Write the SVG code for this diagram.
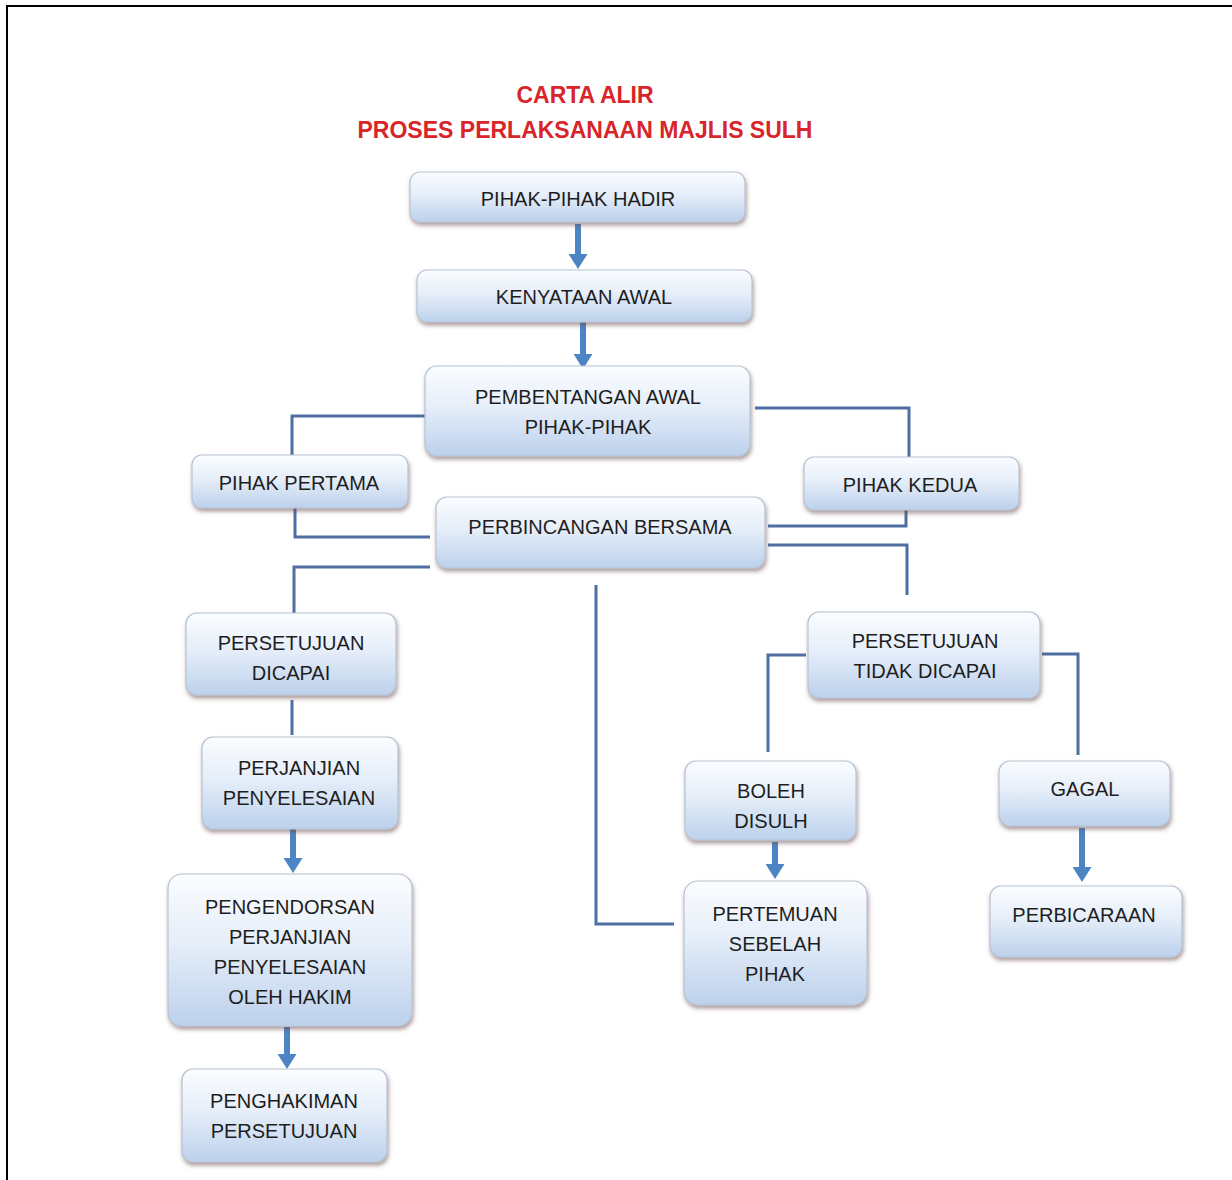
<svg xmlns="http://www.w3.org/2000/svg" width="1232" height="1180" viewBox="0 0 1232 1180">
<style>
.box{fill:url(#g);stroke:#b7c3d3;stroke-width:1.2;filter:url(#sh)}
.t{font-family:"Liberation Sans",Arial,sans-serif;font-size:20px;fill:#1e1e1e;text-anchor:middle}
.ttl{font-family:"Liberation Sans",Arial,sans-serif;font-size:23px;font-weight:bold;fill:#d7252a;text-anchor:middle}
.ln{fill:none;stroke:#4f6fa3;stroke-width:3}
.ar{fill:none;stroke:#4d85c4;stroke-width:6}
</style>
<defs>
<linearGradient id="g" x1="0" y1="0" x2="0" y2="1">
<stop offset="0" stop-color="#fbfdff"/>
<stop offset="0.45" stop-color="#e6eef9"/>
<stop offset="1" stop-color="#bcd1ec"/>
</linearGradient>
<filter id="sh" x="-10%" y="-10%" width="125%" height="130%">
<feDropShadow dx="1" dy="3" stdDeviation="2" flood-color="#6a4a4a" flood-opacity="0.55"/>
</filter>
<marker id="ah" viewBox="0 0 10 10" refX="0" refY="5" markerWidth="15" markerHeight="19" orient="auto" markerUnits="userSpaceOnUse" preserveAspectRatio="none">
<path d="M0,0 L10,5 L0,10 Z" fill="#4d85c4"/>
</marker>
</defs>
<rect width="1232" height="1180" fill="#fff"/>
<path d="M7,1180 V6 H1232" fill="none" stroke="#000" stroke-width="2"/>
<g id="title">
<text class="ttl" x="585" y="103">CARTA ALIR</text>
<text class="ttl" x="585" y="138">PROSES PERLAKSANAAN MAJLIS SULH</text>
</g>
<g id="connectors">
<path class="ln" d="M425,416 H292 V455"/>
<path class="ln" d="M295,508 V537 H430"/>
<path class="ln" d="M755,408 H909 V457"/>
<path class="ln" d="M906,510 V526 H768"/>
<path class="ln" d="M768,545 H907 V595"/>
<path class="ln" d="M430,567 H294 V613"/>
<path class="ln" d="M596,585 V924 H674"/>
<path class="ln" d="M292,700 V735"/>
<path class="ln" d="M806,655 H768 V752"/>
<path class="ln" d="M1042,654 H1078 V755"/>
<path class="ar" d="M578,224 V254" marker-end="url(#ah)"/>
<path class="ar" d="M583,322 V354" marker-end="url(#ah)"/>
<path class="ar" d="M293,826 V858" marker-end="url(#ah)"/>
<path class="ar" d="M287,1027 V1054" marker-end="url(#ah)"/>
<path class="ar" d="M775,842 V864" marker-end="url(#ah)"/>
<path class="ar" d="M1082,828 V867" marker-end="url(#ah)"/>
</g>
<g id="n1"><rect class="box" x="410" y="172" width="335" height="50" rx="10"/><text class="t" x="578" y="206">PIHAK-PIHAK HADIR</text></g>
<g id="n2"><rect class="box" x="417" y="270" width="335" height="52" rx="10"/><text class="t" x="584" y="304">KENYATAAN AWAL</text></g>
<g id="n3"><rect class="box" x="425" y="366" width="325" height="90" rx="12"/><text class="t" x="588" y="404">PEMBENTANGAN AWAL</text><text class="t" x="588" y="434">PIHAK-PIHAK</text></g>
<g id="n4"><rect class="box" x="192" y="455" width="216" height="53" rx="10"/><text class="t" x="299" y="490">PIHAK PERTAMA</text></g>
<g id="n5"><rect class="box" x="804" y="457" width="215" height="53" rx="10"/><text class="t" x="910" y="492">PIHAK KEDUA</text></g>
<g id="n6"><rect class="box" x="436" y="497" width="329" height="71" rx="11"/><text class="t" x="600" y="534">PERBINCANGAN BERSAMA</text></g>
<g id="n7"><rect class="box" x="186" y="613" width="210" height="82" rx="11"/><text class="t" x="291" y="650">PERSETUJUAN</text><text class="t" x="291" y="680">DICAPAI</text></g>
<g id="n8"><rect class="box" x="808" y="612" width="232" height="86" rx="11"/><text class="t" x="925" y="648">PERSETUJUAN</text><text class="t" x="925" y="678">TIDAK DICAPAI</text></g>
<g id="n9"><rect class="box" x="202" y="737" width="196" height="92" rx="11"/><text class="t" x="299" y="775">PERJANJIAN</text><text class="t" x="299" y="805">PENYELESAIAN</text></g>
<g id="n10"><rect class="box" x="685" y="761" width="171" height="79" rx="11"/><text class="t" x="771" y="798">BOLEH</text><text class="t" x="771" y="828">DISULH</text></g>
<g id="n11"><rect class="box" x="999" y="761" width="171" height="65" rx="11"/><text class="t" x="1085" y="796">GAGAL</text></g>
<g id="n12"><rect class="box" x="168" y="874" width="244" height="152" rx="14"/><text class="t" x="290" y="914">PENGENDORSAN</text><text class="t" x="290" y="944">PERJANJIAN</text><text class="t" x="290" y="974">PENYELESAIAN</text><text class="t" x="290" y="1004">OLEH HAKIM</text></g>
<g id="n13"><rect class="box" x="684" y="881" width="183" height="124" rx="14"/><text class="t" x="775" y="921">PERTEMUAN</text><text class="t" x="775" y="951">SEBELAH</text><text class="t" x="775" y="981">PIHAK</text></g>
<g id="n14"><rect class="box" x="990" y="886" width="192" height="71" rx="11"/><text class="t" x="1084" y="922">PERBICARAAN</text></g>
<g id="n15"><rect class="box" x="182" y="1069" width="205" height="93" rx="11"/><text class="t" x="284" y="1108">PENGHAKIMAN</text><text class="t" x="284" y="1138">PERSETUJUAN</text></g>
</svg>
